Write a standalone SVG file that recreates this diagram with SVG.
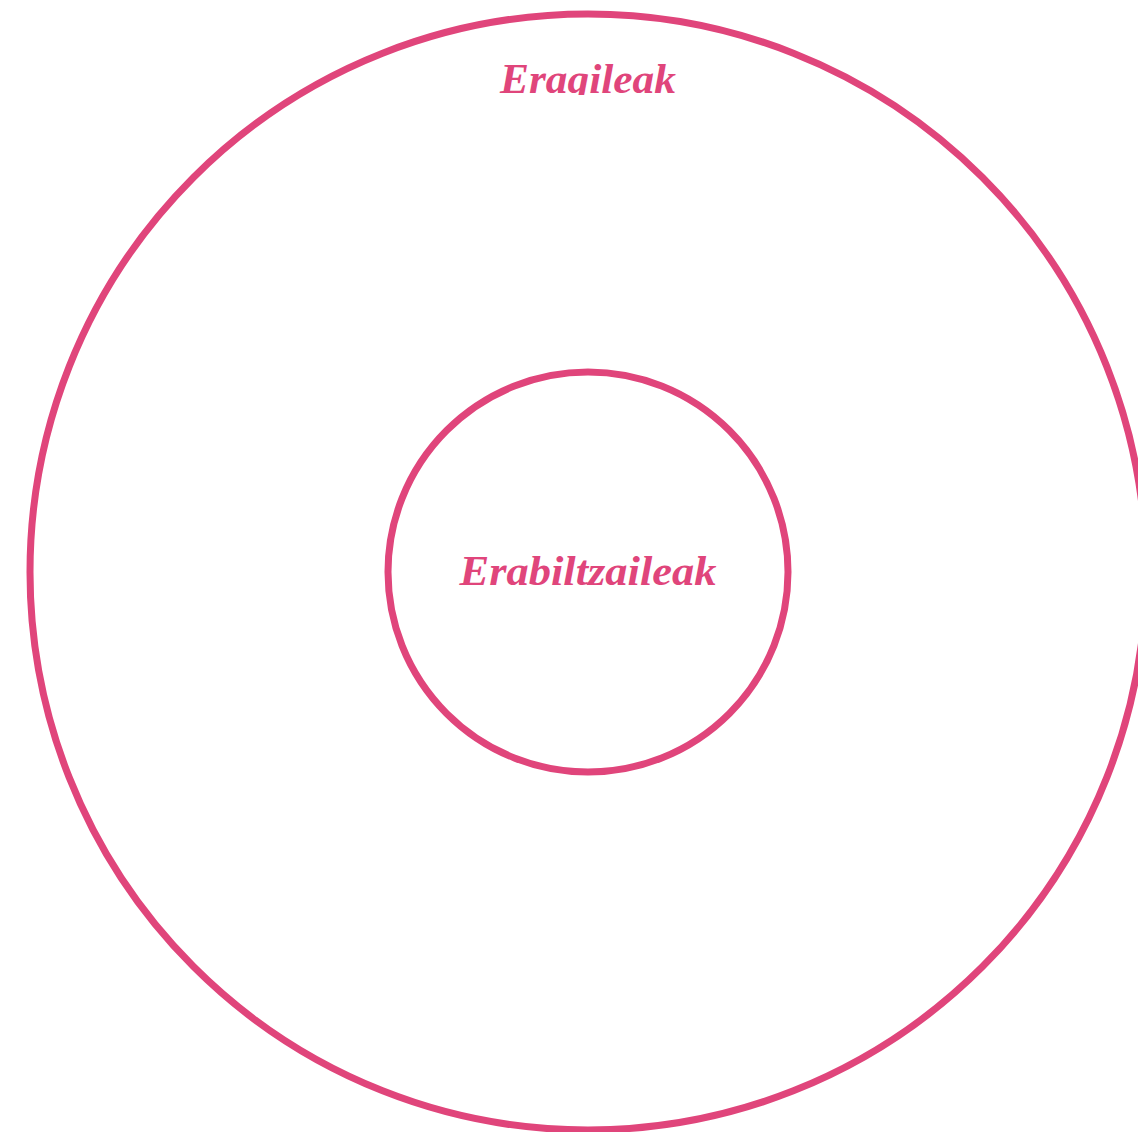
<svg xmlns="http://www.w3.org/2000/svg" width="1138" height="1132" viewBox="0 0 1138 1132">
<style>
.ring{fill:none;stroke:#E0457B;stroke-width:7}
.lbl{fill:#E0457B;font-family:"Liberation Serif","DejaVu Serif",serif;font-style:italic;font-weight:bold;font-size:43px;text-anchor:middle}
</style>
<defs>
<clipPath id="topclip"><rect x="0" y="0" width="1138" height="95"/></clipPath>
</defs>
<rect width="1138" height="1132" fill="#fff"/>
<g id="eragileak">
<circle class="ring" cx="588" cy="572" r="558"/>
<text class="lbl" x="588" y="93" textLength="176" lengthAdjust="spacingAndGlyphs" clip-path="url(#topclip)">Eragileak</text>
</g>
<g id="erabiltzaileak">
<circle class="ring" cx="588" cy="572" r="200"/>
<text class="lbl" x="588" y="585" textLength="257" lengthAdjust="spacingAndGlyphs">Erabiltzaileak</text>
</g>
<g id="connectors"/>
</svg>
